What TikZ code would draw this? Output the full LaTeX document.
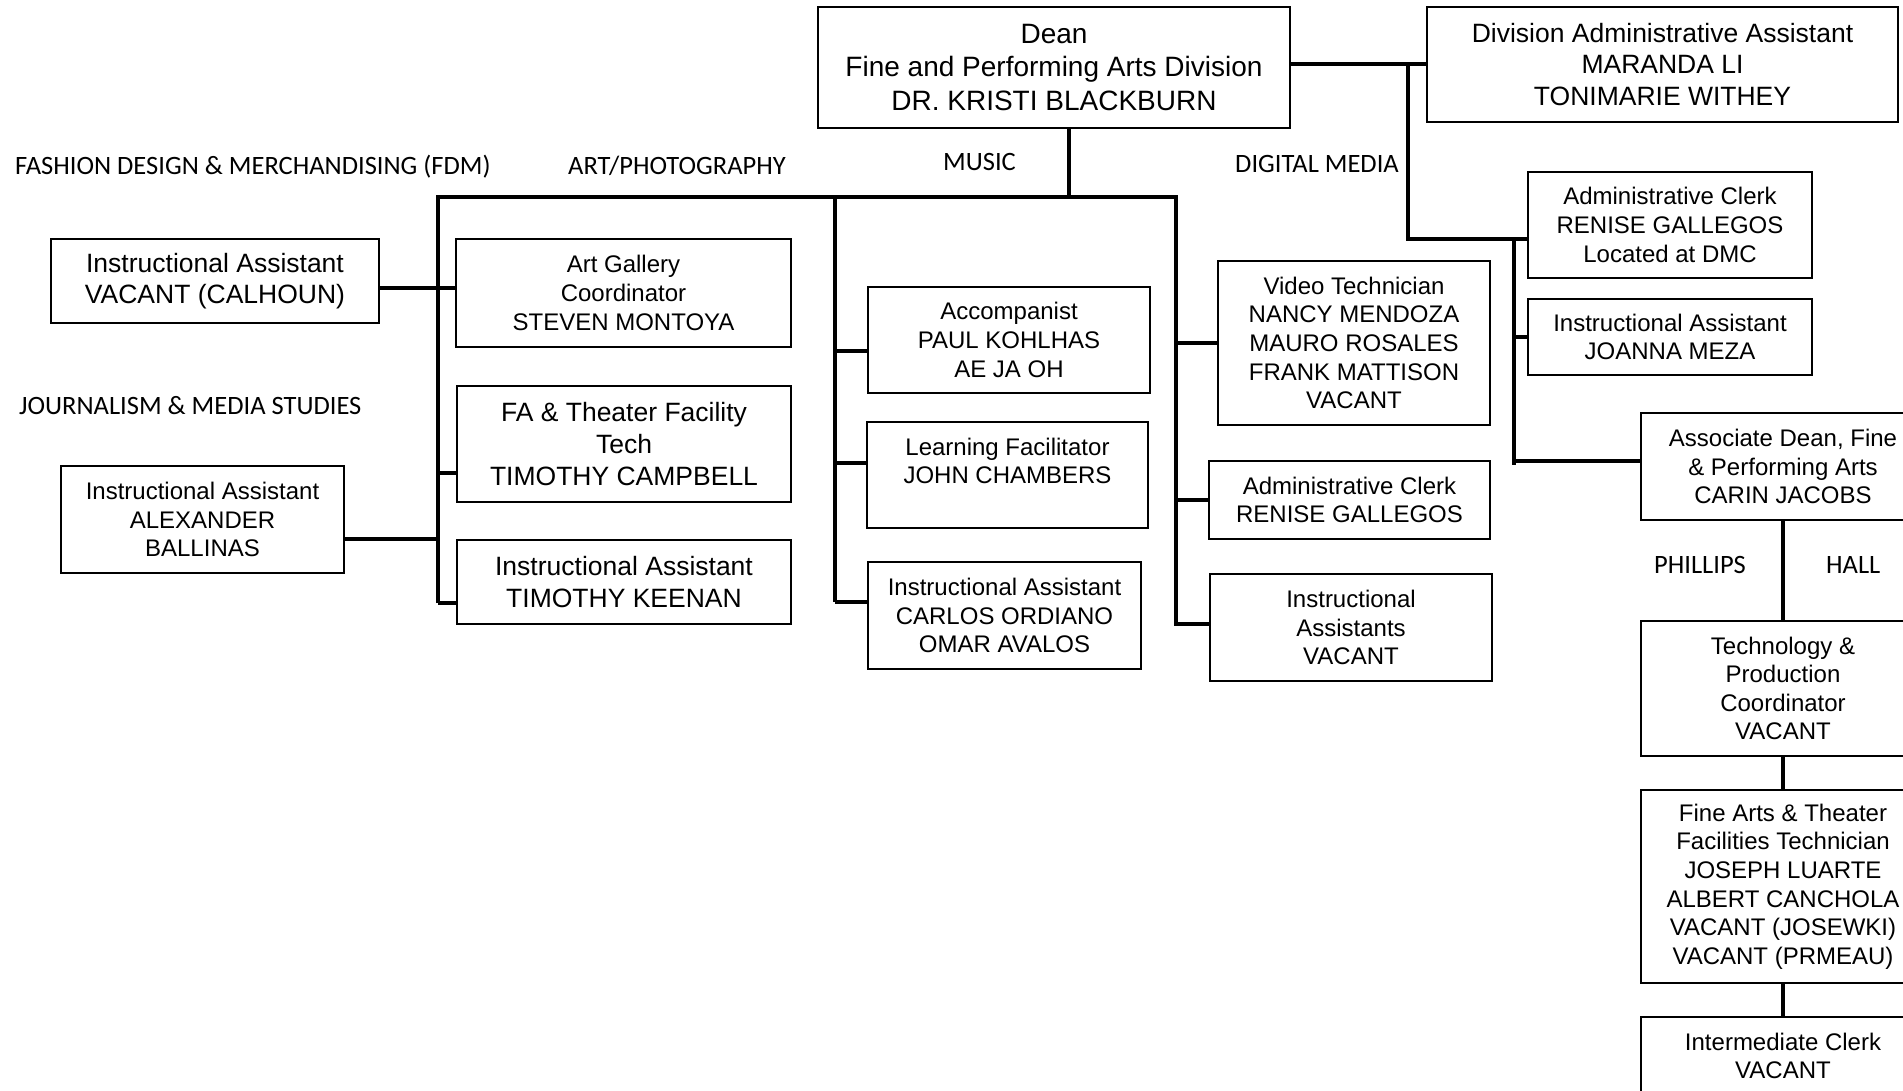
\documentclass[tikz,border=0pt]{standalone}
\usepackage{fontspec}
\setmainfont{Liberation Sans}
\newfontfamily\calfont{Carlito}
\begin{document}
\begin{tikzpicture}[x=1pt,y=-1pt,
  box/.style={draw, line width=1.8pt, fill=white, inner sep=0pt, align=center},
  fL/.style={font=\fontsize{28}{33.4}\selectfont},
  fM/.style={font=\fontsize{26.5}{31.6}\selectfont},
  fS/.style={font=\fontsize{24}{28.6}\selectfont},
  lab/.style={font=\calfont\fontsize{26.5}{30}\selectfont, inner sep=0pt, anchor=base west},
  con/.style={line width=3.5pt}]
\clip (0,0) rectangle (1903,1090);
\fill[white] (0,0) rectangle (1903,1090);

% connectors (drawn first, boxes on top)
\coordinate (busL) at (438,197);
\coordinate (busR) at (1176,197);
\coordinate (artB) at (438,603);
\coordinate (digB) at (1176,626);
\coordinate (musT) at (835,197);
\coordinate (musB) at (835,602);
\coordinate (dtop) at (1069,128);
\coordinate (ja) at (1408,64);
\coordinate (jb) at (1408,239);
\coordinate (jc) at (1514,239);
\coordinate (jd) at (1514,465);

% boxes
\node[box,fL,minimum width=472pt,minimum height=121pt] (dean) at (1054,67.5)
  {Dean\\Fine and Performing Arts Division\\DR. KRISTI BLACKBURN};
\node[box,fM,minimum width=471pt,minimum height=115pt] (divadm) at (1662.5,64.5)
  {Division Administrative Assistant\\MARANDA LI\\TONIMARIE WITHEY};
\node[box,fM,minimum width=328pt,minimum height=84pt] (calhoun) at (215,281)
  {Instructional Assistant\\VACANT (CALHOUN)};
\node[box,fS,minimum width=335pt,minimum height=108pt] (gallery) at (623.5,293)
  {Art Gallery\\Coordinator\\STEVEN MONTOYA};
\node[box,fM,minimum width=334pt,minimum height=116pt] (fatech) at (624,444)
  {FA \& Theater Facility\\Tech\\TIMOTHY CAMPBELL};
\node[box,fM,minimum width=334pt,minimum height=84pt] (keenan) at (624,582)
  {Instructional Assistant\\TIMOTHY KEENAN};
\node[box,fS,minimum width=283pt,minimum height=107pt] (alex) at (202.5,519.5)
  {Instructional Assistant\\ALEXANDER\\BALLINAS};
\node[box,fS,minimum width=282pt,minimum height=106pt] (acc) at (1009,340)
  {Accompanist\\PAUL KOHLHAS\\AE JA OH};
\node[box,fS,minimum width=281pt,minimum height=106pt] (learn) at (1007.5,475)
  {Learning Facilitator\\JOHN CHAMBERS\\\mbox{}};
\node[box,fS,minimum width=273pt,minimum height=107pt] (carlos) at (1004.5,615.5)
  {Instructional Assistant\\CARLOS ORDIANO\\OMAR AVALOS};
\node[box,fS,minimum width=272pt,minimum height=164pt] (video) at (1354,343)
  {Video Technician\\NANCY MENDOZA\\MAURO ROSALES\\FRANK MATTISON\\VACANT};
\node[box,fS,minimum width=281pt,minimum height=78pt] (renise) at (1349.5,500)
  {Administrative Clerk\\RENISE GALLEGOS};
\node[box,fS,minimum width=282pt,minimum height=107pt] (iavac) at (1351,627.5)
  {Instructional\\Assistants\\VACANT};
\node[box,fS,minimum width=284pt,minimum height=106pt] (dmc) at (1670,225)
  {Administrative Clerk\\RENISE GALLEGOS\\Located at DMC};
\node[box,fS,minimum width=284pt,minimum height=76pt] (joanna) at (1670,337)
  {Instructional Assistant\\JOANNA MEZA};
\node[box,fS,minimum width=284pt,minimum height=107pt] (assoc) at (1783,466.5)
  {Associate Dean, Fine\\\& Performing Arts\\CARIN JACOBS};
\node[box,fS,minimum width=284pt,minimum height=135pt] (techc) at (1783,688.5)
  {Technology \&\\Production\\Coordinator\\VACANT};
\node[box,fS,minimum width=284pt,minimum height=193pt] (fafac) at (1783,886.5)
  {Fine Arts \& Theater\\Facilities Technician\\JOSEPH LUARTE\\ALBERT CANCHOLA\\VACANT (JOSEWKI)\\VACANT (PRMEAU)};
\node[box,fS,minimum width=284pt,minimum height=78pt] (iclerk) at (1783,1056)
  {Intermediate Clerk\\VACANT};

% trunk lines
\draw[con] (artB) -- (busL) -- (busR) -- (digB);
\draw[con] (musT) -- (musB);
\draw[con] (dtop) -- (dtop |- busL);
\draw[con] (dean.east |- ja) -- (divadm.west |- ja);
\draw[con] (ja) -- (jb) -- (dmc.west |- jb);
\draw[con] (jc) -- (jd);
\draw[con] (jc |- joanna.west) -- (joanna.west);
\draw[con] (1514,461) -- (assoc.west |- 1514,461);

% stubs: art / photography column
\draw[con] (calhoun.east |- 0,288) -- (gallery.west |- 0,288);
\draw[con] (438,473) -- (fatech.west |- 438,473);
\draw[con] (alex.east |- 0,539) -- (438,539);
\draw[con] (artB) -- (keenan.west |- artB);
% music
\draw[con] (835,351) -- (acc.west |- 835,351);
\draw[con] (835,463) -- (learn.west |- 835,463);
\draw[con] (musB) -- (carlos.west |- musB);
% digital media
\draw[con] (1176,343) -- (video.west |- 1176,343);
\draw[con] (1176,500) -- (renise.west |- 1176,500);
\draw[con] (1176,624) -- (iavac.west |- 1176,624);
% right column
\draw[con] (assoc.south) -- (techc.north);
\draw[con] (techc.south) -- (fafac.north);
\draw[con] (fafac.south) -- (iclerk.north);

% section labels
\node[lab] (lfdm) at (15,174) {FASHION DESIGN \& MERCHANDISING (FDM)};
\node[lab] (lart) at (568,174) {ART/PHOTOGRAPHY};
\node[lab] (lmus) at (943,170.5) {MUSIC};
\node[lab] (ldig) at (1235,172) {DIGITAL MEDIA};
\node[lab] (ljour) at (19,414.5) {JOURNALISM \& MEDIA STUDIES};
\node[lab] (lphil) at (1654,573) {PHILLIPS};
\node[lab] (lhall) at (1826,573) {HALL};
\end{tikzpicture}
\end{document}
